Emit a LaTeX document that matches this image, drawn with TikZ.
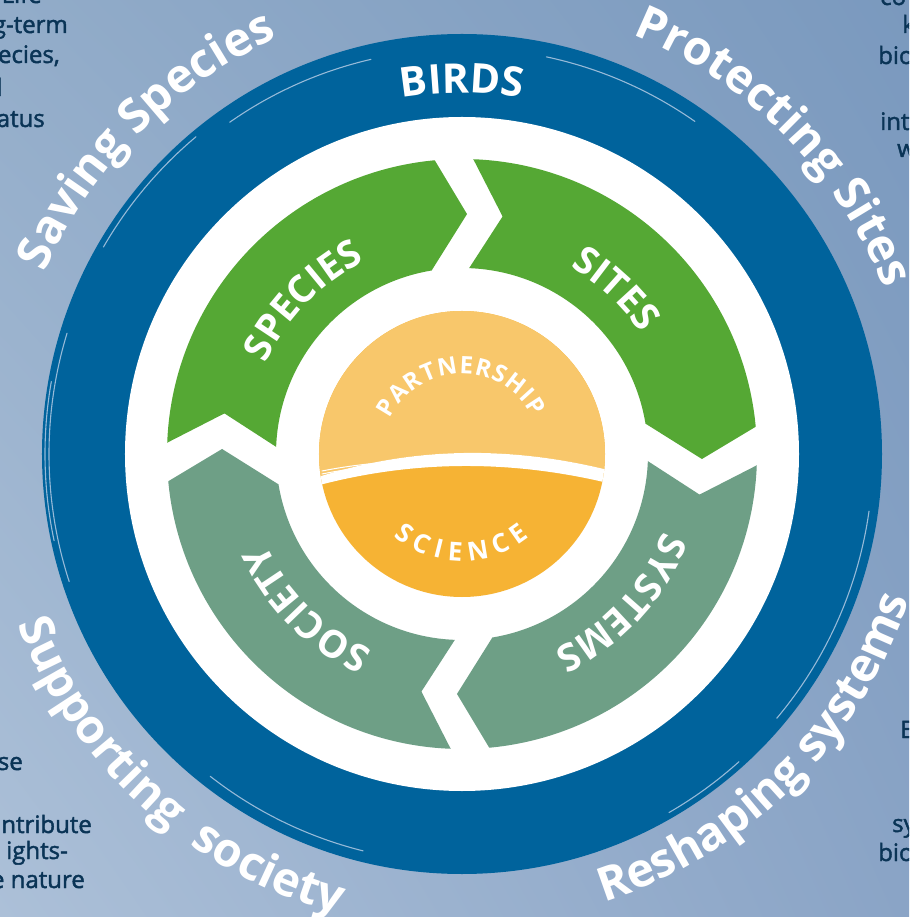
\documentclass[tikz,border=0pt]{standalone}
\usepackage{fontspec}
\setmainfont{Open Sans}
\newfontfamily\fragfamily[FakeBold=1.8]{Open Sans}
\usetikzlibrary{decorations.text,shadings}
\definecolor{bgUL}{RGB}{146,172,201}
\definecolor{bgUR}{RGB}{122,153,190}
\definecolor{bgLL}{RGB}{172,192,216}
\definecolor{bgLR}{RGB}{138,164,198}
\definecolor{ringblue}{RGB}{0,99,156}
\definecolor{streakblue}{RGB}{150,186,216}
\definecolor{arrowgreen}{RGB}{85,168,52}
\definecolor{arrowsage}{RGB}{110,159,134}
\definecolor{sunlight}{RGB}{248,199,107}
\definecolor{sundark}{RGB}{246,179,52}
\definecolor{navy}{RGB}{10,52,86}
\newcommand\outerfont{\bfseries\fontsize{47}{47}\selectfont}
\newcommand\segfont{\bfseries\fontsize{38}{38}\selectfont}
\newcommand\birdsfont{\bfseries\fontsize{41}{41}\selectfont}
\newcommand\partfont{\bfseries\fontsize{24}{24}\selectfont}
\newcommand\scifont{\bfseries\fontsize{26}{26}\selectfont}
\begin{document}
\begin{tikzpicture}[x=1pt,y=1pt,
  frag/.style={text=navy, font=\fragfamily\fontsize{24}{24}\selectfont, inner sep=0pt},
  streak/.style={draw=streakblue, line width=1.1pt, line cap=round},
  swooshline/.style={draw=white, line width=1pt, line cap=round},
  curvedtext/.style={decorate, decoration={text along path, text align=center, text color=white, text={#1}}},
  fittext/.style={decorate, decoration={text along path, text align={fit to path}, text color=white, text={#1}}},
]
\useasboundingbox (-462,-463) rectangle (447,454);
\clip (-462,-463) rectangle (447,454);
\shade[upper left=bgUL, upper right=bgUR, lower left=bgLL, lower right=bgLR] (-462,-463) rectangle (447,454);

% background text fragments
\node[frag, anchor=base east] (fragA) at (-420, 451) {Life};
\node[frag, anchor=base east] (fragB) at (-394, 421) {g-term};
\node[frag, anchor=base east] (fragC) at (-402, 391) {ecies,};
\node[frag, anchor=base east] (fragD) at (-459, 358) {l};
\node[frag, anchor=base east] (fragE) at (-417, 327) {atus};
\node[frag, anchor=base east] (fragF) at (-439, -316) {se};
\node[frag, anchor=base east] (fragG) at (-370, -379) {ntribute};
\node[frag, anchor=base east] (fragH) at (-394, -405) {ights-};
\node[frag, anchor=base east] (fragI) at (-377, -434) {e nature};
\node[frag, anchor=base west] (fragJ) at (418, 449) {co};
\node[frag, anchor=base west] (fragK) at (440, 421) {k};
\node[frag, anchor=base west] (fragL) at (416, 390) {bio};
\node[frag, anchor=base west] (fragM) at (418, 324) {int};
\node[frag, anchor=base west] (fragN) at (435, 297) {w};
\node[frag, anchor=base west] (fragO) at (438, -284) {E};
\node[frag, anchor=base west] (fragP) at (430, -378) {sy};
\node[frag, anchor=base west] (fragQ) at (416, -407) {bio};

% blue ring
\fill[ringblue] (0,0) circle[radius=420];
\draw[streak] (103:405) arc[start angle=103, end angle=125, radius=405];
\draw[streak] (55:406) arc[start angle=55, end angle=78, radius=406];
\draw[streak] (163:413) arc[start angle=163, end angle=198, radius=413];
\draw[streak] (170:417) arc[start angle=170, end angle=192, radius=417];
\draw[streak] (-8:411) arc[start angle=-8, end angle=-40, radius=411];
\draw[streak] (-48:414) arc[start angle=-48, end angle=-60, radius=414];
\draw[streak] (232:409) arc[start angle=232, end angle=256, radius=409];
\draw[streak] (130:414) arc[start angle=130, end angle=150, radius=414];
\fill[white] (0,0) circle[radius=337];

% arrows
\begin{scope}
\fill[arrowgreen] (177.8:295) arc[start angle=177.8, end angle=95.3, radius=295] -- (88.8:240) -- (99.4:186) arc[start angle=99.4, end angle=177.8, radius=186] -- (170.3:241) -- cycle;
\end{scope}
\begin{scope}[rotate=-90]
\fill[arrowgreen] (177.8:295) arc[start angle=177.8, end angle=95.3, radius=295] -- (88.8:240) -- (99.4:186) arc[start angle=99.4, end angle=177.8, radius=186] -- (170.3:241) -- cycle;
\end{scope}
\begin{scope}[rotate=-180]
\fill[arrowsage] (177.8:295) arc[start angle=177.8, end angle=95.3, radius=295] -- (88.8:240) -- (99.4:186) arc[start angle=99.4, end angle=177.8, radius=186] -- (170.3:241) -- cycle;
\end{scope}
\begin{scope}[rotate=90]
\fill[arrowsage] (177.8:295) arc[start angle=177.8, end angle=95.3, radius=295] -- (88.8:240) -- (99.4:186) arc[start angle=99.4, end angle=177.8, radius=186] -- (170.3:241) -- cycle;
\end{scope}

% centre disk
\begin{scope}
\clip (0,0) circle[radius=143];
\fill[sundark] (-150,-150) rectangle (150,150);
\fill[sunlight] (-150,-25) .. controls (-50,8.3) and (50,8.3) .. (150,-17) -- (150,150) -- (-150,150) -- cycle;
\fill[white] (-150,-25) .. controls (-50,8.3) and (50,8.3) .. (150,-17) -- (150,-30) .. controls (50,-5.5) and (-50,-5.5) .. (-150,-33) -- cycle;
\draw[swooshline] (-140,-20) .. controls (-100,-12) and (-60,-9) .. (-10,-6);
\draw[swooshline] (-140,-17) .. controls (-110,-11) and (-80,-8) .. (-40,-6);
\end{scope}

% labels
\path[curvedtext={|\birdsfont|BIRDS}] (140:361) arc[start angle=140, end angle=40, radius=361];
\path[curvedtext={|\segfont|SPECIES}] (176:216) arc[start angle=176, end angle=96, radius=216];
\path[curvedtext={|\segfont|SITES}] (87:216) arc[start angle=87, end angle=7, radius=216];
\path[curvedtext={|\segfont|SYSTEMS}] (-3:216) arc[start angle=-3, end angle=-83, radius=216];
\path[curvedtext={|\segfont|SOCIETY}] (-95:216) arc[start angle=-95, end angle=-175, radius=216];
\path[fittext={|\partfont|PARTNERSHIP}] (154:80) arc[start angle=154, end angle=27.7, radius=80];
\path[fittext={|\scifont|SCIENCE}] (-130:107) arc[start angle=-130, end angle=-51, radius=107];

\path[curvedtext={|\outerfont|Saving Species}] (175.2:455) arc[start angle=175.2, end angle=95.2, radius=455];
\path[curvedtext={|\outerfont|Protecting Sites}] (84.6:453) arc[start angle=84.6, end angle=4.6, radius=453];
\path[curvedtext={|\outerfont|Reshaping systems}] (-85.2:470) arc[start angle=-85.2, end angle=-5.2, radius=470];
\path[curvedtext={|\outerfont|Supporting~ society}] (-172:476) arc[start angle=-172, end angle=-92, radius=476];
\end{tikzpicture}
\end{document}
